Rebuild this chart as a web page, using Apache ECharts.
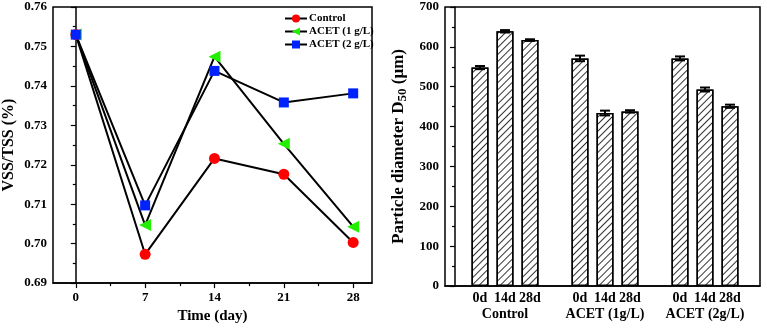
<!DOCTYPE html>
<html>
<head>
<meta charset="utf-8">
<script src="https://cdn.jsdelivr.net/npm/echarts@6/dist/echarts.min.js"></script>
<style>
html, body { margin: 0; padding: 0; background: #fff; }
#chart { width: 767px; height: 329px; }
</style>
</head>
<body>
<div id="chart"></div>
<script>
// left panel: VSS/TSS over time
var days = [0, 7, 14, 21, 28];
var control = [0.753, 0.6973, 0.7216, 0.7176, 0.7003];
var acet1 = [0.753, 0.7047, 0.7474, 0.7253, 0.7043];
var acet2 = [0.753, 0.7097, 0.7438, 0.7358, 0.7381];

// right panel: particle diameter D50
var barPos = [1, 2, 3, 5, 6, 7, 9, 10, 11];
var barDays = ['0d', '14d', '28d', '0d', '14d', '28d', '0d', '14d', '28d'];
var groupPos = [2, 6, 10];
var groupNames = ['Control', 'ACET (1g/L)', 'ACET (2g/L)'];
var d50 = [548, 639, 617, 571, 434, 438, 571, 493, 451];
var d50Err = [4, 3, 2, 7, 6, 3, 5, 5, 4];

var font = 'Liberation Serif';

function pair(xs, ys) {
    return xs.map(function (x, i) { return [x, ys[i]]; });
}

function lookup(keys, vals) {
    var m = {};
    keys.forEach(function (k, i) { m[k] = vals[i]; });
    return m;
}
var dayLabel = lookup(barPos, barDays);
var groupLabel = lookup(groupPos, groupNames);

var axisLine = { lineStyle: { color: '#000', width: 1.5 } };
var labelStyle = { color: '#000', fontFamily: font, fontWeight: 'bold', fontSize: 13 };
var bigLabel = { color: '#000', fontFamily: font, fontWeight: 'bold', fontSize: 14 };

var mychart = echarts.init(document.getElementById('chart'));
var option = {
    animation: false,
    backgroundColor: '#fff',
    grid: [
        { left: 48, top: 7, right: 395, bottom: 42, show: true, borderColor: '#000', borderWidth: 1.5 },
        { left: 445, top: 7, right: 7, bottom: 43, show: true, borderColor: '#000', borderWidth: 1.5 }
    ],
    legend: {
        left: 279,
        top: 8,
        orient: 'vertical',
        itemGap: 2,
        itemWidth: 22,
        itemHeight: 10,
        data: ['Control', 'ACET (1 g/L)', 'ACET (2 g/L)'],
        textStyle: { color: '#000', fontFamily: font, fontWeight: 'bold', fontSize: 11, padding: [0, 0, 0, -3] }
    },
    xAxis: [
        {
            gridIndex: 0, type: 'value', min: -2.3, max: 29.9,
            name: 'Time (day)', nameLocation: 'middle', nameGap: 22,
            nameTextStyle: { color: '#000', fontFamily: font, fontWeight: 'bold', fontSize: 15 },
            axisLine: axisLine,
            axisTick: { show: true, length: 5, lineStyle: { color: '#000', width: 1.2 }, customValues: days },
            axisLabel: Object.assign({ customValues: days, margin: 8 }, labelStyle),
            splitLine: { show: false }
        },
        {
            gridIndex: 0, type: 'value', min: -2.3, max: 29.9, position: 'bottom',
            axisLine: { show: false },
            axisTick: { show: true, length: 3, lineStyle: { color: '#000', width: 1.2 }, customValues: [3.5, 10.5, 17.5, 24.5] },
            axisLabel: { show: false },
            splitLine: { show: false }
        },
        {
            gridIndex: 1, type: 'value', min: -0.4, max: 12.2,
            axisLine: axisLine,
            axisTick: { show: false },
            axisLabel: Object.assign({
                customValues: barPos, margin: 5, hideOverlap: false,
                formatter: function (v) { return dayLabel[v] || ''; }
            }, bigLabel),
            splitLine: { show: false }
        },
        {
            gridIndex: 1, type: 'value', min: -0.4, max: 12.2, position: 'bottom',
            axisLine: { show: false },
            axisTick: { show: false },
            axisLabel: Object.assign({
                customValues: groupPos, margin: 21, hideOverlap: false,
                formatter: function (v) { return groupLabel[v] || ''; }
            }, bigLabel),
            splitLine: { show: false }
        }
    ],
    yAxis: [
        {
            gridIndex: 0, type: 'value', min: 0.69, max: 0.76, interval: 0.01,
            name: 'VSS/TSS (%)', nameLocation: 'middle', nameGap: 36,
            nameTextStyle: { color: '#000', fontFamily: font, fontWeight: 'bold', fontSize: 16 },
            axisLine: axisLine,
            axisTick: { show: true, length: 5, lineStyle: { color: '#000', width: 1.2 } },
            minorTick: { show: true, splitNumber: 2, length: 3, lineStyle: { color: '#000', width: 1.2 } },
            axisLabel: Object.assign({ margin: 6, formatter: function (v) { return v.toFixed(2); } }, labelStyle),
            splitLine: { show: false }
        },
        {
            gridIndex: 1, type: 'value', min: 0, max: 700, interval: 100,
            name: 'Particle diameter D{sub|50} (μm)', nameLocation: 'middle', nameGap: 36,
            nameTextStyle: {
                color: '#000', fontFamily: font, fontWeight: 'bold', fontSize: 17,
                rich: { sub: { fontFamily: font, fontSize: 13, color: '#000', padding: [8, 0, 0, 0] } }
            },
            axisLine: axisLine,
            axisTick: { show: true, length: 5, lineStyle: { color: '#000', width: 1.2 } },
            minorTick: { show: true, splitNumber: 2, length: 3, lineStyle: { color: '#000', width: 1.2 } },
            axisLabel: Object.assign({ margin: 6 }, labelStyle),
            splitLine: { show: false }
        }
    ],
    series: [
        {
            name: 'Control', type: 'line', xAxisIndex: 0, yAxisIndex: 0,
            data: pair(days, control),
            symbol: 'circle', symbolSize: 11,
            lineStyle: { color: '#000', width: 2 },
            itemStyle: { color: '#ff0000' }
        },
        {
            name: 'ACET (1 g/L)', type: 'line', xAxisIndex: 0, yAxisIndex: 0,
            data: pair(days, acet1),
            symbol: 'triangle', symbolSize: 12, symbolRotate: 90,
            lineStyle: { color: '#000', width: 2 },
            itemStyle: { color: '#22ee00' }
        },
        {
            name: 'ACET (2 g/L)', type: 'line', xAxisIndex: 0, yAxisIndex: 0,
            data: pair(days, acet2),
            symbol: 'rect', symbolSize: 10,
            lineStyle: { color: '#000', width: 2 },
            itemStyle: { color: '#0022ff' }
        },
        {
            name: 'D50', type: 'bar', xAxisIndex: 2, yAxisIndex: 1,
            data: pair(barPos, d50),
            barWidth: 17,
            itemStyle: {
                color: '#fff', borderColor: '#000', borderWidth: 1.5,
                decal: {
                    symbol: 'rect', color: '#333', backgroundColor: '#fff',
                    dashArrayX: [1, 0], dashArrayY: [1, 4], rotation: -Math.PI / 4
                }
            }
        },
        {
            name: 'err', type: 'custom', xAxisIndex: 2, yAxisIndex: 1,
            data: barPos.map(function (p, i) { return [p, d50[i] - d50Err[i], d50[i] + d50Err[i]]; }),
            renderItem: function (params, api) {
                var lo = api.coord([api.value(0), api.value(1)]);
                var hi = api.coord([api.value(0), api.value(2)]);
                var w = 5;
                var st = { stroke: '#000', lineWidth: 2 };
                return {
                    type: 'group',
                    children: [
                        { type: 'line', shape: { x1: lo[0], y1: lo[1], x2: hi[0], y2: hi[1] }, style: st },
                        { type: 'line', shape: { x1: lo[0] - w, y1: lo[1], x2: lo[0] + w, y2: lo[1] }, style: st },
                        { type: 'line', shape: { x1: hi[0] - w, y1: hi[1], x2: hi[0] + w, y2: hi[1] }, style: st }
                    ]
                };
            },
            z: 5
        }
    ]
};
mychart.setOption(option);
</script>
</body>
</html>
